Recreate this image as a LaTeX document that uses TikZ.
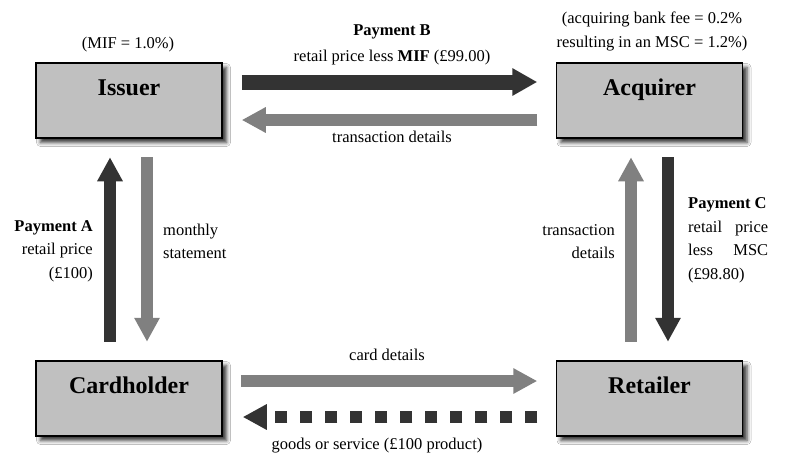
\documentclass[tikz,border=0pt]{standalone}
\usepackage{fontspec}
\setmainfont{Liberation Serif}
\usetikzlibrary{arrows.meta, positioning, calc, shadows.blur}
\definecolor{boxgray}{HTML}{C0C0C0}
\definecolor{dkarrow}{HTML}{333333}
\definecolor{ltarrow}{HTML}{808080}

\begin{document}
\begin{tikzpicture}[
  x=1pt, y=-1pt,
  party/.style={draw=black, line width=1.5pt, fill=boxgray, minimum width=186pt,
    inner sep=9pt, text height=23pt, text depth=34pt,
    font=\fontsize{24}{28}\selectfont\bfseries,
    blur shadow={shadow xshift=4.5pt, shadow yshift=-4.5pt, shadow blur radius=4pt, shadow opacity=80}},
  flow/.style={line width=12pt, -{Triangle[length=24pt, width=24pt]}},
  money/.style={flow, draw=dkarrow},
  info/.style={flow, draw=ltarrow},
  note/.style={inner sep=0pt, font=\fontsize{16.5}{23.5}\selectfont},
]

% Background
\fill[white] (0,0) rectangle (787,475);
\useasboundingbox (0,0) rectangle (787,475);

% Parties
\node[party] (issuer)     at (129,100.5)   {Issuer};
\node[party] (acquirer)   at (649.5,100.5) {Acquirer};
\node[party] (cardholder) at (129,398.5)   {Cardholder};
\node[party] (retailer)   at (649.5,398.5) {Retailer};

% Issuer <-> Acquirer
\draw[money, line width=15pt, -{Triangle[length=25pt, width=26pt]}]
  ([xshift=19pt, yshift=18.5pt]issuer.east) -- ([xshift=-18.5pt, yshift=18.5pt]acquirer.west);
\draw[info]
  ([xshift=-18.5pt, yshift=-19.5pt]acquirer.west) -- ([xshift=19pt, yshift=-19.5pt]issuer.east);

% Cardholder <-> Issuer
\draw[money]
  ([xshift=-19pt, yshift=18.5pt]cardholder.north) -- ([xshift=-19pt, yshift=-18.5pt]issuer.south);
\draw[info]
  ([xshift=18pt, yshift=-18.5pt]issuer.south) -- ([xshift=18pt, yshift=18.5pt]cardholder.north);

% Retailer <-> Acquirer
\draw[info]
  ([xshift=-18.5pt, yshift=18.5pt]retailer.north) -- ([xshift=-18.5pt, yshift=-18.5pt]acquirer.south);
\draw[money]
  ([xshift=18.5pt, yshift=-18.5pt]acquirer.south) -- ([xshift=18.5pt, yshift=18.5pt]retailer.north);

% Cardholder <-> Retailer
\draw[info]
  ([xshift=18pt, yshift=17.5pt]cardholder.east) -- ([xshift=-18.5pt, yshift=17.5pt]retailer.west);
\draw[money, dash pattern=on 12pt off 13pt]
  ([xshift=-18.5pt, yshift=-18.5pt]retailer.west) -- ([xshift=20pt, yshift=-18.5pt]cardholder.east);

% Labels
\node[note] (mif) at (128,45) {(MIF = 1.0\%)};
\node[note, align=center] (fee) at (652,31.5)
  {(acquiring bank fee = 0.2\%\\resulting in an MSC = 1.2\%)};
\node[note, align=center] (payB) at (392,45)
  {\textbf{Payment B}\\[3pt]retail price less \textbf{MIF} (£99.00)};
\node[note] (txtop) at (392,137) {transaction details};
\node[note, align=right, anchor=east] (payA) at (93,251)
  {\textbf{Payment A}\\retail price\\(£100)};
\node[note, align=left, anchor=west] (stmt) at (163,241.5) {monthly\\statement};
\node[note, align=right, anchor=east] (txright) at (615,241.5) {transaction\\details};
\node[note, align=left, anchor=west] (payC) at (688,240.5)
  {\textbf{Payment C}\\\makebox[80pt][s]{retail price}\\\makebox[80pt][s]{less MSC}\\(£98.80)};
\node[note] (card) at (387,355) {card details};
\node[note] (goods) at (377,446) {goods or service (£100 product)};

\end{tikzpicture}
\end{document}
